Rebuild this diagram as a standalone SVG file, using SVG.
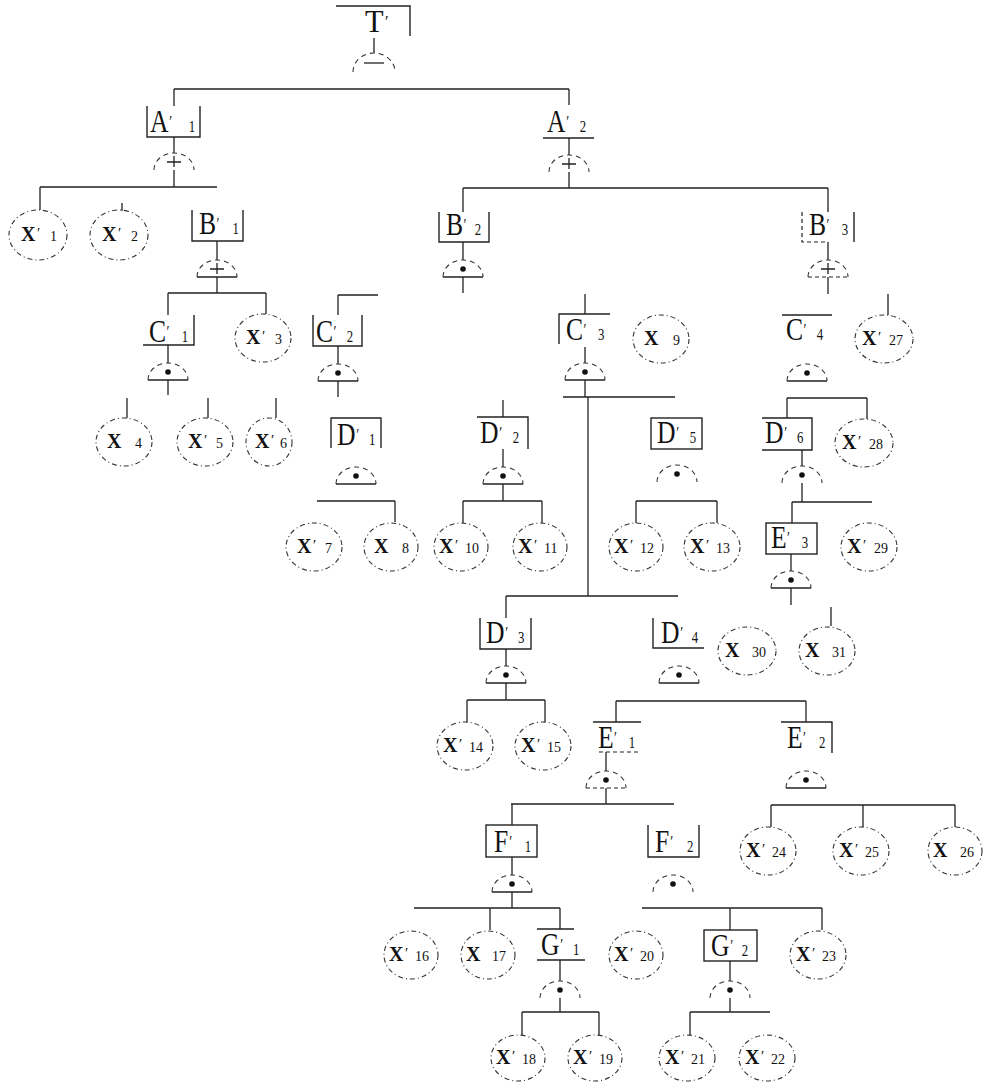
<svg xmlns="http://www.w3.org/2000/svg" xmlns:xlink="http://www.w3.org/1999/xlink" width="987" height="1082" viewBox="0 0 987 1082">
<style>
.ln{stroke:#222;stroke-width:1.3;fill:none}
.bx{stroke:#222;stroke-width:1.4;fill:none}
.dbx{stroke:#222;stroke-width:1.2;fill:none;stroke-dasharray:4 3}
.ev{stroke:#333;stroke-width:1.1;fill:none;stroke-dasharray:5 3 1 3}
.dome{stroke:#333;stroke-width:1.1;fill:none;stroke-dasharray:5 4}
.base{stroke:#222;stroke-width:1.3;fill:none}
.dbase{stroke:#222;stroke-width:1.2;fill:none;stroke-dasharray:4 3}
.L{font-family:"Liberation Serif","DejaVu Serif",serif;font-size:32px;fill:#111}
.X{font-family:"Liberation Serif","DejaVu Serif",serif;font-size:20px;font-weight:bold;fill:#111}
.p{font-size:15px;font-weight:normal}
.L .p{font-size:17px}
.s{font-size:14px;font-weight:normal}
.L .s{font-size:16px}
</style>
<defs>
<g id="gA"><path class="dome" d="M-20 0A20 17 0 0 1 20 0"/><circle cy="-8" r="2.8" fill="#111"/></g>
<g id="gO"><path class="dome" d="M-20 0A20 17 0 0 1 20 0"/><path class="ln" d="M-7 -8H7M0 -14V-3"/></g>
</defs>
<rect width="987" height="1082" fill="#fff"/>

<g id="connectors" class="ln">
<path d="M374 38V53M174 89H569M174 89V106M569 89V105M174 137V153M174 170V187M40 187H217M40 187V210M122 203V211"/>
<path d="M217 241V260M217 277V293M168 293H266M168 293V315M266 293V314M168 345V363M168 380V395M127 398V418M208 398V418M276 398V418"/>
<path d="M338 295H378M338 295V315M338 346V364M338 381V397"/>
<path d="M569 138V155M569 172V188M463 188H828M463 188V212M828 188V212M463 242V260M463 277V293"/>
<path d="M585 294V314M585 347V363M585 380V397M563 397H675M588 397V596M506 596H678"/>
<path d="M503 400V417M503 449V467M503 484V501M463 501H542M463 501V523M542 501V523M317 501H395M395 501V522M636 501H717M636 501V523M717 501V523"/>
<path d="M828 242V260M828 277V294M888 294V315M787 398H867M787 398V418M867 398V419M802 450V466M802 483V502M792 502H872M792 502V523M791 554V571M791 588V605M831 607V626"/>
<path d="M506 596V618M506 649V666M506 683V700M467 700H545M467 700V722M545 700V722M616 701H806M616 701V722M806 701V722"/>
<path d="M606 752V771M606 788V804M511 804H674M512 804V825M771 805H955M771 805V827M863 805V827M955 805V827"/>
<path d="M512 857V875M512 892V908M414 908H560M490 908V930M560 908V929M560 960V981M560 998V1012M522 1012H599M522 1012V1035M599 1012V1035"/>
<path d="M642 908H822M730 908V930M822 908V930M730 961V981M730 998V1012M690 1012H770M690 1012V1035"/>
</g>

<g id="T">
<path class="bx" d="M336 6H410V36"/>
<text class="L" transform="translate(365 32) scale(0.95 1)"><tspan x="0" y="0">T</tspan><tspan class="p" x="21" y="-5">′</tspan></text>
<path class="dome" d="M353 72A21 19 0 0 1 395 72"/><path class="ln" d="M364 63H384"/>
</g>
<g id="A1">
<path class="bx" d="M147 106V137H200V106"/>
<text class="L" transform="translate(150 132) scale(0.8 1)"><tspan x="0" y="0">A</tspan><tspan class="p" x="24" y="-5">′</tspan><tspan class="s" x="48.5" y="0">1</tspan></text>
<use xlink:href="#gO" x="174" y="170"/>
</g>
<g id="A2">
<path class="bx" d="M543 138H594"/>
<text class="L" transform="translate(547 132) scale(0.8 1)"><tspan x="0" y="0">A</tspan><tspan class="p" x="24" y="-5">′</tspan><tspan class="s" x="41" y="0">2</tspan></text>
<use xlink:href="#gO" x="569" y="172"/>
</g>
<g id="B1">
<path class="bx" d="M192 210V241H243V210"/>
<text class="L" transform="translate(199 234) scale(0.8 1)"><tspan x="0" y="0">B</tspan><tspan class="p" x="22" y="-5">′</tspan><tspan class="s" x="42" y="0">1</tspan></text>
<use xlink:href="#gO" x="217" y="277"/><path class="base" d="M197 277H237"/>
</g>
<g id="B2">
<path class="bx" d="M439 212V242H489V212"/>
<text class="L" transform="translate(446 235) scale(0.8 1)"><tspan x="0" y="0">B</tspan><tspan class="p" x="22" y="-5">′</tspan><tspan class="s" x="36" y="0">2</tspan></text>
<use xlink:href="#gA" x="463" y="277"/><path class="base" d="M443 277H483"/>
</g>
<g id="B3">
<path class="dbx" d="M802 212V242H826"/><path class="bx" d="M854 212V242"/>
<text class="L" transform="translate(809 235) scale(0.8 1)"><tspan x="0" y="0">B</tspan><tspan class="p" x="22" y="-5">′</tspan><tspan class="s" x="41" y="0">3</tspan></text>
<use xlink:href="#gO" x="828" y="277"/><path class="dbase" d="M808 277H848"/>
</g>
<g id="C1">
<path class="bx" d="M143 345H194V315"/>
<text class="L" transform="translate(149 342) scale(0.8 1)"><tspan x="0" y="0">C</tspan><tspan class="p" x="22" y="-5">′</tspan><tspan class="s" x="41" y="0">1</tspan></text>
<use xlink:href="#gA" x="168" y="380"/><path class="base" d="M148 380H188"/>
</g>
<g id="C2">
<path class="bx" d="M313 315V346H362V315"/>
<text class="L" transform="translate(316 342) scale(0.8 1)"><tspan x="0" y="0">C</tspan><tspan class="p" x="22" y="-5">′</tspan><tspan class="s" x="38.5" y="0">2</tspan></text>
<use xlink:href="#gA" x="338" y="381"/><path class="base" d="M318 381H358"/>
</g>
<g id="C3">
<path class="bx" d="M559 344V314H610"/>
<text class="L" transform="translate(566 340) scale(0.8 1)"><tspan x="0" y="0">C</tspan><tspan class="p" x="22" y="-5">′</tspan><tspan class="s" x="40" y="0">3</tspan></text>
<use xlink:href="#gA" x="585" y="380"/><path class="base" d="M565 380H605"/>
</g>
<g id="C4">
<path class="bx" d="M782 315H832"/>
<text class="L" transform="translate(786 340) scale(0.8 1)"><tspan x="0" y="0">C</tspan><tspan class="p" x="22" y="-5">′</tspan><tspan class="s" x="38.5" y="0">4</tspan></text>
<use xlink:href="#gA" x="807" y="381"/><path class="base" d="M787 381H827"/>
</g>
<g id="D1">
<path class="bx" d="M331 448V418H381V448"/>
<text class="L" transform="translate(337 445) scale(0.8 1)"><tspan x="0" y="0">D</tspan><tspan class="p" x="24" y="-5">′</tspan><tspan class="s" x="40" y="0">1</tspan></text>
<use xlink:href="#gA" x="356" y="484"/><path class="base" d="M336 484H376"/>
</g>
<g id="D2">
<path class="bx" d="M477 417H528V449"/>
<text class="L" transform="translate(480 443) scale(0.8 1)"><tspan x="0" y="0">D</tspan><tspan class="p" x="24" y="-5">′</tspan><tspan class="s" x="41" y="0">2</tspan></text>
<use xlink:href="#gA" x="503" y="484"/><path class="base" d="M483 484H523"/>
</g>
<g id="D3">
<path class="bx" d="M480 618V649H531V618"/>
<text class="L" transform="translate(486 643) scale(0.8 1)"><tspan x="0" y="0">D</tspan><tspan class="p" x="24" y="-5">′</tspan><tspan class="s" x="40" y="0">3</tspan></text>
<use xlink:href="#gA" x="506" y="683"/><path class="base" d="M486 683H526"/>
</g>
<g id="D4">
<path class="bx" d="M653 618V648H704"/>
<text class="L" transform="translate(661 643) scale(0.8 1)"><tspan x="0" y="0">D</tspan><tspan class="p" x="24" y="-5">′</tspan><tspan class="s" x="38.5" y="0">4</tspan></text>
<use xlink:href="#gA" x="679" y="683"/><path class="base" d="M659 683H699"/>
</g>
<g id="D5">
<rect class="bx" x="651" y="418" width="51" height="31"/>
<text class="L" transform="translate(657 443) scale(0.8 1)"><tspan x="0" y="0">D</tspan><tspan class="p" x="24" y="-5">′</tspan><tspan class="s" x="41" y="0">5</tspan></text>
<use xlink:href="#gA" x="677" y="482"/>
</g>
<g id="D6">
<path class="bx" d="M762 418H812V450H762"/>
<text class="L" transform="translate(765 443) scale(0.8 1)"><tspan x="0" y="0">D</tspan><tspan class="p" x="24" y="-5">′</tspan><tspan class="s" x="40" y="0">6</tspan></text>
<use xlink:href="#gA" x="802" y="483"/>
</g>
<g id="E1">
<path class="bx" d="M593 722H641"/><path class="dbx" d="M599 752H639"/>
<text class="L" transform="translate(598 748) scale(0.8 1)"><tspan x="0" y="0">E</tspan><tspan class="p" x="20" y="-5">′</tspan><tspan class="s" x="38.5" y="0">1</tspan></text>
<use xlink:href="#gA" x="606" y="788"/><path class="dbase" d="M586 788H626"/>
</g>
<g id="E2">
<path class="bx" d="M781 722H832V753"/>
<text class="L" transform="translate(787 748) scale(0.8 1)"><tspan x="0" y="0">E</tspan><tspan class="p" x="20" y="-5">′</tspan><tspan class="s" x="40" y="0">2</tspan></text>
<use xlink:href="#gA" x="806" y="788"/><path class="base" d="M786 788H826"/>
</g>
<g id="E3">
<rect class="bx" x="766" y="523" width="51" height="31"/>
<text class="L" transform="translate(771 548) scale(0.8 1)"><tspan x="0" y="0">E</tspan><tspan class="p" x="20" y="-5">′</tspan><tspan class="s" x="38.5" y="0">3</tspan></text>
<use xlink:href="#gA" x="791" y="588"/><path class="base" d="M771 588H811"/>
</g>
<g id="F1">
<rect class="bx" x="486" y="825" width="51" height="32"/>
<text class="L" transform="translate(494 852) scale(0.8 1)"><tspan x="0" y="0">F</tspan><tspan class="p" x="19" y="-5">′</tspan><tspan class="s" x="38.5" y="0">1</tspan></text>
<use xlink:href="#gA" x="512" y="892"/><path class="base" d="M492 892H532"/>
</g>
<g id="F2">
<path class="bx" d="M648 825V857H699V825"/>
<text class="L" transform="translate(655 852) scale(0.8 1)"><tspan x="0" y="0">F</tspan><tspan class="p" x="19" y="-5">′</tspan><tspan class="s" x="40" y="0">2</tspan></text>
<use xlink:href="#gA" x="673" y="892"/>
</g>
<g id="G1">
<path class="bx" d="M537 929H574M537 960H585"/>
<text class="L" transform="translate(541 955) scale(0.8 1)"><tspan x="0" y="0">G</tspan><tspan class="p" x="24" y="-5">′</tspan><tspan class="s" x="40" y="0">1</tspan></text>
<use xlink:href="#gA" x="560" y="998"/>
</g>
<g id="G2">
<rect class="bx" x="704" y="930" width="53" height="31"/>
<text class="L" transform="translate(711 956) scale(0.8 1)"><tspan x="0" y="0">G</tspan><tspan class="p" x="24" y="-5">′</tspan><tspan class="s" x="38.5" y="0">2</tspan></text>
<use xlink:href="#gA" x="730" y="998"/>
</g>

<g id="X1"><ellipse class="ev" cx="38" cy="235" rx="29" ry="25"/><text class="X"><tspan x="21" y="241">X</tspan><tspan class="p" x="37" y="238">′</tspan><tspan class="s" x="50" y="241">1</tspan></text></g>
<g id="X2"><ellipse class="ev" cx="119" cy="235" rx="29" ry="25"/><text class="X"><tspan x="102" y="241">X</tspan><tspan class="p" x="118" y="238">′</tspan><tspan class="s" x="131" y="241">2</tspan></text></g>
<g id="X3"><ellipse class="ev" cx="263" cy="338" rx="28" ry="24"/><text class="X"><tspan x="246" y="344">X</tspan><tspan class="p" x="262" y="341">′</tspan><tspan class="s" x="275" y="344">3</tspan></text></g>
<g id="X4"><ellipse class="ev" cx="124" cy="442" rx="28" ry="24"/><text class="X"><tspan x="107" y="448">X</tspan><tspan class="s" x="135" y="448">4</tspan></text></g>
<g id="X5"><ellipse class="ev" cx="205" cy="442" rx="28" ry="24"/><text class="X"><tspan x="188" y="448">X</tspan><tspan class="p" x="204" y="445">′</tspan><tspan class="s" x="216" y="448">5</tspan></text></g>
<g id="X6"><ellipse class="ev" cx="269" cy="442" rx="23" ry="24"/><text class="X"><tspan x="255" y="448">X</tspan><tspan class="p" x="271" y="445">′</tspan><tspan class="s" x="280" y="448">6</tspan></text></g>
<g id="X7"><ellipse class="ev" cx="314" cy="547" rx="28" ry="24"/><text class="X"><tspan x="297" y="553">X</tspan><tspan class="p" x="313" y="550">′</tspan><tspan class="s" x="325" y="553">7</tspan></text></g>
<g id="X8"><ellipse class="ev" cx="391" cy="547" rx="27" ry="24"/><text class="X"><tspan x="374" y="553">X</tspan><tspan class="s" x="402" y="553">8</tspan></text></g>
<g id="X9"><ellipse class="ev" cx="661" cy="339" rx="28" ry="24"/><text class="X"><tspan x="644" y="345">X</tspan><tspan class="s" x="673" y="345">9</tspan></text></g>
<g id="X10"><ellipse class="ev" cx="461" cy="547" rx="27" ry="24"/><text class="X"><tspan x="439" y="553">X</tspan><tspan class="p" x="455" y="550">′</tspan><tspan class="s" x="465" y="553">10</tspan></text></g>
<g id="X11"><ellipse class="ev" cx="540" cy="547" rx="27" ry="24"/><text class="X"><tspan x="518" y="553">X</tspan><tspan class="p" x="534" y="550">′</tspan><tspan class="s" x="544" y="553">11</tspan></text></g>
<g id="X12"><ellipse class="ev" cx="636" cy="547" rx="27" ry="24"/><text class="X"><tspan x="614" y="553">X</tspan><tspan class="p" x="630" y="550">′</tspan><tspan class="s" x="640" y="553">12</tspan></text></g>
<g id="X13"><ellipse class="ev" cx="712" cy="547" rx="28" ry="24"/><text class="X"><tspan x="690" y="553">X</tspan><tspan class="p" x="706" y="550">′</tspan><tspan class="s" x="716" y="553">13</tspan></text></g>
<g id="X14"><ellipse class="ev" cx="465" cy="746" rx="28" ry="24"/><text class="X"><tspan x="443" y="752">X</tspan><tspan class="p" x="459" y="749">′</tspan><tspan class="s" x="469" y="752">14</tspan></text></g>
<g id="X15"><ellipse class="ev" cx="543" cy="746" rx="28" ry="24"/><text class="X"><tspan x="521" y="752">X</tspan><tspan class="p" x="537" y="749">′</tspan><tspan class="s" x="547" y="752">15</tspan></text></g>
<g id="X16"><ellipse class="ev" cx="411" cy="955" rx="27" ry="24"/><text class="X"><tspan x="389" y="961">X</tspan><tspan class="p" x="405" y="958">′</tspan><tspan class="s" x="415" y="961">16</tspan></text></g>
<g id="X17"><ellipse class="ev" cx="488" cy="955" rx="27" ry="24"/><text class="X"><tspan x="466" y="961">X</tspan><tspan class="s" x="492" y="961">17</tspan></text></g>
<g id="X18"><ellipse class="ev" cx="518" cy="1058" rx="27" ry="23"/><text class="X"><tspan x="496" y="1064">X</tspan><tspan class="p" x="512" y="1061">′</tspan><tspan class="s" x="522" y="1064">18</tspan></text></g>
<g id="X19"><ellipse class="ev" cx="595" cy="1058" rx="27" ry="23"/><text class="X"><tspan x="573" y="1064">X</tspan><tspan class="p" x="589" y="1061">′</tspan><tspan class="s" x="599" y="1064">19</tspan></text></g>
<g id="X20"><ellipse class="ev" cx="636" cy="955" rx="27" ry="24"/><text class="X"><tspan x="614" y="961">X</tspan><tspan class="p" x="630" y="958">′</tspan><tspan class="s" x="640" y="961">20</tspan></text></g>
<g id="X21"><ellipse class="ev" cx="687" cy="1058" rx="28" ry="23"/><text class="X"><tspan x="665" y="1064">X</tspan><tspan class="p" x="681" y="1061">′</tspan><tspan class="s" x="691" y="1064">21</tspan></text></g>
<g id="X22"><ellipse class="ev" cx="767" cy="1058" rx="28" ry="23"/><text class="X"><tspan x="745" y="1064">X</tspan><tspan class="p" x="761" y="1061">′</tspan><tspan class="s" x="771" y="1064">22</tspan></text></g>
<g id="X23"><ellipse class="ev" cx="818" cy="955" rx="28" ry="24"/><text class="X"><tspan x="796" y="961">X</tspan><tspan class="p" x="812" y="958">′</tspan><tspan class="s" x="822" y="961">23</tspan></text></g>
<g id="X24"><ellipse class="ev" cx="768" cy="851" rx="28" ry="24"/><text class="X"><tspan x="746" y="857">X</tspan><tspan class="p" x="762" y="854">′</tspan><tspan class="s" x="772" y="857">24</tspan></text></g>
<g id="X25"><ellipse class="ev" cx="861" cy="851" rx="28" ry="24"/><text class="X"><tspan x="839" y="857">X</tspan><tspan class="p" x="855" y="854">′</tspan><tspan class="s" x="865" y="857">25</tspan></text></g>
<g id="X26"><ellipse class="ev" cx="955" cy="851" rx="27" ry="24"/><text class="X"><tspan x="933" y="857">X</tspan><tspan class="s" x="960" y="857">26</tspan></text></g>
<g id="X27"><ellipse class="ev" cx="884" cy="339" rx="29" ry="24"/><text class="X"><tspan x="862" y="345">X</tspan><tspan class="p" x="878" y="342">′</tspan><tspan class="s" x="889" y="345">27</tspan></text></g>
<g id="X28"><ellipse class="ev" cx="864" cy="443" rx="29" ry="24"/><text class="X"><tspan x="842" y="449">X</tspan><tspan class="p" x="858" y="446">′</tspan><tspan class="s" x="869" y="449">28</tspan></text></g>
<g id="X29"><ellipse class="ev" cx="869" cy="547" rx="28" ry="24"/><text class="X"><tspan x="847" y="553">X</tspan><tspan class="p" x="863" y="550">′</tspan><tspan class="s" x="874" y="553">29</tspan></text></g>
<g id="X30"><ellipse class="ev" cx="747" cy="651" rx="29" ry="24"/><text class="X"><tspan x="725" y="657">X</tspan><tspan class="s" x="752" y="657">30</tspan></text></g>
<g id="X31"><ellipse class="ev" cx="827" cy="651" rx="28" ry="24"/><text class="X"><tspan x="805" y="657">X</tspan><tspan class="s" x="832" y="657">31</tspan></text></g>
</svg>
